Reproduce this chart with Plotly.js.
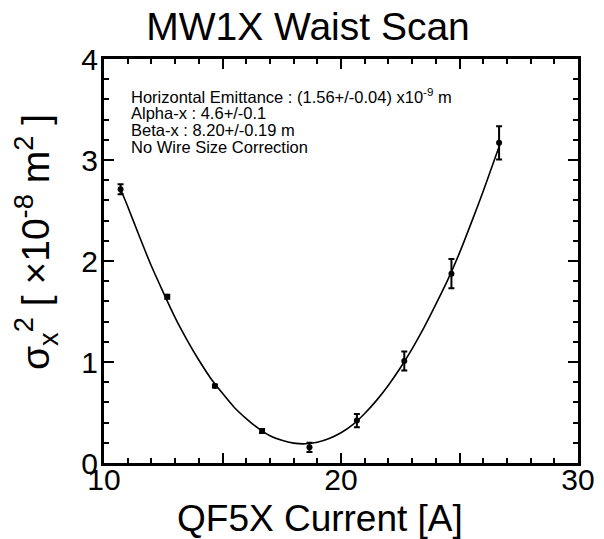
<!DOCTYPE html>
<html>
<head>
<meta charset="utf-8">
<script src="https://cdn.plot.ly/plotly-3.0.1.min.js"></script>
<style>html,body{margin:0;padding:0;background:#fff;}#chart{width:604px;height:539px;}</style>
</head>
<body>
<div id="chart"></div>
<script>
// Measured data
const current = [10.7, 12.67, 14.68, 16.67, 18.67, 20.67, 22.67, 24.66, 26.67];
const sigma2 = [2.71, 1.646, 0.762, 0.317, 0.155, 0.42, 1.01, 1.875, 3.17];
const sigma2Err = [0.05, 0.02, 0.015, 0.02, 0.045, 0.065, 0.095, 0.145, 0.165];

// Fit curve
const fitCurrent = [10.7, 11.0, 11.5, 12.0, 12.5, 13.0, 13.5, 14.0, 14.5, 15.0, 15.5, 16.0, 16.5, 17.0, 17.5, 18.0, 18.5, 19.0, 19.5, 20.0, 20.5, 21.0, 21.5, 22.0, 22.5, 23.0, 23.5, 24.0, 24.5, 25.0, 25.5, 26.0, 26.5, 26.7];
const fitSigma2 = [2.71, 2.54, 2.24, 1.95, 1.69, 1.44, 1.22, 1.02, 0.84, 0.69, 0.55, 0.44, 0.345, 0.27, 0.225, 0.197, 0.19, 0.206, 0.243, 0.30, 0.38, 0.49, 0.62, 0.77, 0.94, 1.13, 1.34, 1.57, 1.81, 2.08, 2.38, 2.69, 3.02, 3.15];

const xTickVals = [10, 15, 20, 25, 30];
const xTickText = ['10', '', '20', '', '30'];
const yTickVals = [0, 1, 2, 3, 4];
const yTickText = ['0', '1', '2', '3', '4'];

const titleText = 'MW1X Waist Scan';
const xTitleText = 'QF5X Current [A]';
const yTitleText = 'σ<sub>x</sub><sup>2</sup> [ ×10<sup>-8</sup> m<sup>2</sup> ]';
const infoLines = [
  'Horizontal Emittance : (1.56+/-0.04) x10<sup>-9</sup> m',
  'Alpha-x : 4.6+/-0.1',
  'Beta-x : 8.20+/-0.19 m',
  'No Wire Size Correction'
];

const FONT = 'Liberation Sans, Arial, Helvetica, sans-serif';
const W = 604, H = 539;

const traces = [
  {
    x: fitCurrent, y: fitSigma2, type: 'scatter', mode: 'lines',
    line: {color: '#000', width: 1.6, shape: 'spline', smoothing: 0.6},
    hoverinfo: 'skip', showlegend: false
  },
  {
    x: current, y: sigma2, type: 'scatter', mode: 'markers',
    marker: {color: '#000', size: 6, symbol: 'circle'},
    error_y: {type: 'data', array: sigma2Err, visible: true, color: '#000', thickness: 2, width: 3},
    showlegend: false
  }
];

const annotations = infoLines.map((t, i) => ({
  text: t, xref: 'paper', yref: 'paper',
  x: (129 - 104) / 474, xanchor: 'left',
  y: 1 - (96 + i * 17 - 59) / 404, yanchor: 'middle',
  showarrow: false, align: 'left',
  font: {family: FONT, size: 16.5, color: '#000'}
}));

annotations.push({
  text: xTitleText, xref: 'paper', yref: 'paper',
  x: (320 - 104) / 474, xanchor: 'center',
  y: 1 - (518 - 59) / 404, yanchor: 'middle',
  showarrow: false, font: {family: FONT, size: 37, color: '#000'}
});
annotations.push({
  text: yTitleText, xref: 'paper', yref: 'paper', textangle: -90,
  x: (36 - 104) / 474, xanchor: 'center',
  y: 1 - (242 - 59) / 404, yanchor: 'middle',
  showarrow: false, font: {family: FONT, size: 39, color: '#000'}
});

const axisCommon = {
  showgrid: false, zeroline: false,
  showline: true, linecolor: '#000', linewidth: 3,
  mirror: 'ticks', ticks: 'inside', ticklen: 10, tickwidth: 2, tickcolor: '#000',
  tickfont: {family: FONT, size: 30, color: '#000'}
};

const layout = {
  width: W, height: H,
  margin: {l: 104, r: 26, t: 59, b: 76},
  paper_bgcolor: '#fff', plot_bgcolor: '#fff',
  font: {family: FONT, color: '#000'},
  title: {text: titleText, font: {family: FONT, size: 39, color: '#000'},
          xref: 'container', x: 308 / W, xanchor: 'center', yref: 'container', y: 1 - 26 / H, yanchor: 'middle'},
  xaxis: Object.assign({}, axisCommon, {
    range: [10, 30], tickmode: 'array', tickvals: xTickVals, ticktext: xTickText,
    ticklabelstandoff: -12,
    minor: {dtick: 1, ticks: 'inside', ticklen: 5, tickwidth: 2, tickcolor: '#000', showgrid: false}
  }),
  yaxis: Object.assign({}, axisCommon, {
    range: [0, 4], tickmode: 'array', tickvals: yTickVals, ticktext: yTickText,
    ticklabelstandoff: -3,
    minor: {dtick: 0.2, tick0: 0, ticks: 'inside', ticklen: 5, tickwidth: 2, tickcolor: '#000', showgrid: false}
  }),
  annotations: annotations
};

Plotly.newPlot('chart', traces, layout, {displayModeBar: false, staticPlot: true});
</script>
</body>
</html>
